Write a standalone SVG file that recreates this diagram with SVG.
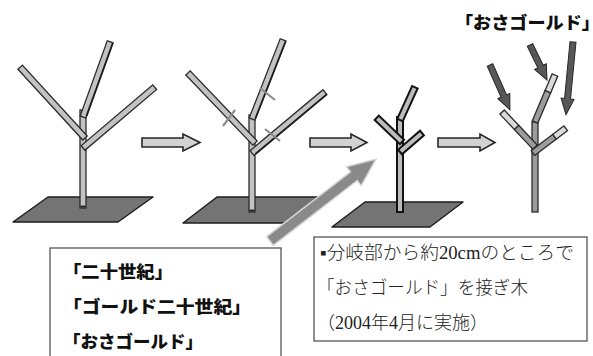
<svg xmlns="http://www.w3.org/2000/svg" width="593" height="356" viewBox="0 0 593 356">
  <style>
    .br { fill: #c2c2c2; stroke: #2a2a2a; stroke-width: 1.3; }
    .br3 { fill: #bcbcbc; stroke: #111; stroke-width: 2; }
    .old { fill: #9c9c9c; stroke: #2a2a2a; stroke-width: 1.3; }
    .graft { fill: #dadada; stroke: #2a2a2a; stroke-width: 1.3; }
    .edge { stroke: #1e1e1e; stroke-width: 1.8; }
    .ground { fill: #747474; stroke: #1e1e1e; stroke-width: 1.5; stroke-linejoin: round; }
    .cut { stroke: #8c8c8c; stroke-width: 2.2; }
    .step { fill: #d2d2d2; stroke: #262626; stroke-width: 1.6; stroke-linejoin: miter; }
    .point { fill: #585858; stroke: #262626; stroke-width: 1; }
    .big { fill: #8a8a8a; stroke: #d6d6d6; stroke-width: 1.5; }
    .box { fill: #fff; stroke: #555; stroke-width: 1.3; }
    .bold { font-family: "Noto Sans CJK JP", sans-serif; font-weight: 900; font-size: 17px; fill: #111; }
    .mincho { font-family: "Liberation Serif", "Noto Sans CJK JP", serif; font-weight: 300; font-size: 18px; fill: #222; }
  </style>

  <!-- Tree 1: original tree -->
  <g id="tree1">
    <polygon class="ground" points="13,222 48,197 153,197 118,222"/>
    <rect class="br" x="80" y="110" width="6" height="98"/>
    <line class="edge" x1="80.5" y1="206.5" x2="85.5" y2="206.5"/>
    <rect class="br" x="0" y="-3" width="96" height="6" transform="translate(85,138) rotate(-132.5)"/>
    <g transform="translate(83,117) rotate(-70.2)">
      <rect class="br" x="0" y="-3" width="80" height="6"/>
      <line class="edge" x1="2" y1="3" x2="80" y2="3"/>
    </g>
    <rect class="br" x="0" y="-3" width="94" height="6" transform="translate(83,148) rotate(-40.3)"/>
  </g>

  <!-- Tree 2: cut positions marked on each branch -->
  <g id="tree2">
    <polygon class="ground" points="183,223 217,197 322,197 288,223"/>
    <rect class="br" x="249" y="115" width="6" height="97"/>
    <line class="edge" x1="249.5" y1="210.5" x2="254.5" y2="210.5"/>
    <rect class="br" x="0" y="-3" width="97" height="6" transform="translate(255,143) rotate(-133.7)"/>
    <g transform="translate(252,119) rotate(-68.6)">
      <rect class="br" x="0" y="-3" width="85" height="6"/>
      <line class="edge" x1="2" y1="3" x2="85" y2="3"/>
    </g>
    <g transform="translate(252,153) rotate(-39.9)">
      <rect class="br" x="0" y="-3" width="95" height="6"/>
      <line class="edge" x1="2" y1="3" x2="95" y2="3"/>
    </g>
    <line class="cut" x1="223" y1="126" x2="235" y2="110"/>
    <line class="cut" x1="260" y1="88" x2="275" y2="100"/>
    <line class="cut" x1="265" y1="129" x2="280" y2="141"/>
  </g>

  <!-- Tree 3: branches cut back -->
  <g id="tree3">
    <polygon class="ground" points="332,227 365,202 463,202 430,227"/>
    <rect class="br3" x="397" y="117" width="6" height="95"/>
    <rect class="br3" x="0" y="-3" width="35" height="6" transform="translate(402,142) rotate(-136.2)"/>
    <rect class="br3" x="0" y="-3" width="36" height="6" transform="translate(400,120) rotate(-65.6)"/>
    <rect class="br3" x="0" y="-3" width="29" height="6" transform="translate(400,152) rotate(-40.8)"/>
  </g>

  <!-- Tree 4: grafted scions on the cut branches -->
  <g id="tree4">
    <rect class="old" x="532" y="122" width="6" height="90"/>
    <g transform="translate(535,147) rotate(-133.3)">
      <rect class="old" x="0" y="-3" width="27" height="6"/>
      <rect class="graft" x="27" y="-3" width="21" height="6"/>
    </g>
    <g transform="translate(535,122) rotate(-67)">
      <rect class="old" x="0" y="-3" width="33" height="6"/>
      <rect class="graft" x="33" y="-3" width="18" height="6"/>
    </g>
    <g transform="translate(533,153) rotate(-37.1)">
      <rect class="old" x="0" y="-3" width="27" height="6"/>
      <rect class="graft" x="27" y="-3" width="14" height="6"/>
    </g>
  </g>

  <!-- Scion variety label -->
  <g id="label-osa">
    <text class="bold" x="455" y="29" textLength="145" lengthAdjust="spacingAndGlyphs">「おさゴールド」</text>
  </g>

  <!-- Connectors: step arrows, graft pointers, source arrow -->
  <g id="connectors">
    <path class="step" d="M142,138 H183 V134 L200,142.5 L183,151 V147 H142 Z"/>
    <path class="step" d="M310,138 H351 V134 L367,142.5 L351,151 V147 H310 Z"/>
    <path class="step" d="M438,138 H480 V134 L495,142.5 L480,151 V147 H438 Z"/>

    <path class="point" d="M0,-3 H34 V-6.5 L49,0 L34,6.5 V3 H0 Z" transform="translate(490,65) rotate(66)"/>
    <path class="point" d="M0,-3 H24 V-6.5 L39,0 L24,6.5 V3 H0 Z" transform="translate(530,45) rotate(64.1)"/>
    <path class="point" d="M0,-3 H57 V-6.5 L73,0 L57,6.5 V3 H0 Z" transform="translate(573,42) rotate(95.5)"/>

    <path class="big" d="M0,-5.5 H106 V-12 L134,0 L106,12 V5.5 H0 Z" transform="translate(270,241) rotate(-37.7)"/>
  </g>

  <!-- Box: varieties -->
  <g id="box-varieties">
    <rect class="box" x="50" y="248" width="231" height="120"/>
    <text class="bold" x="63" y="278" textLength="110" lengthAdjust="spacingAndGlyphs">「二十世紀」</text>
    <text class="bold" x="63" y="313" textLength="188" lengthAdjust="spacingAndGlyphs">「ゴールド二十世紀」</text>
    <text class="bold" x="63" y="348" textLength="140" lengthAdjust="spacingAndGlyphs">「おさゴールド」</text>
  </g>

  <!-- Box: grafting note -->
  <g id="box-note">
    <rect class="box" x="314" y="237" width="273" height="104"/>
    <text class="mincho" x="320" y="259" textLength="254" lengthAdjust="spacingAndGlyphs">▪分岐部から約20cmのところで</text>
    <text class="mincho" x="317" y="294" textLength="211" lengthAdjust="spacingAndGlyphs">「おさゴールド」を接ぎ木</text>
    <text class="mincho" x="317" y="329" textLength="171" lengthAdjust="spacingAndGlyphs">（2004年4月に実施）</text>
  </g>
</svg>
